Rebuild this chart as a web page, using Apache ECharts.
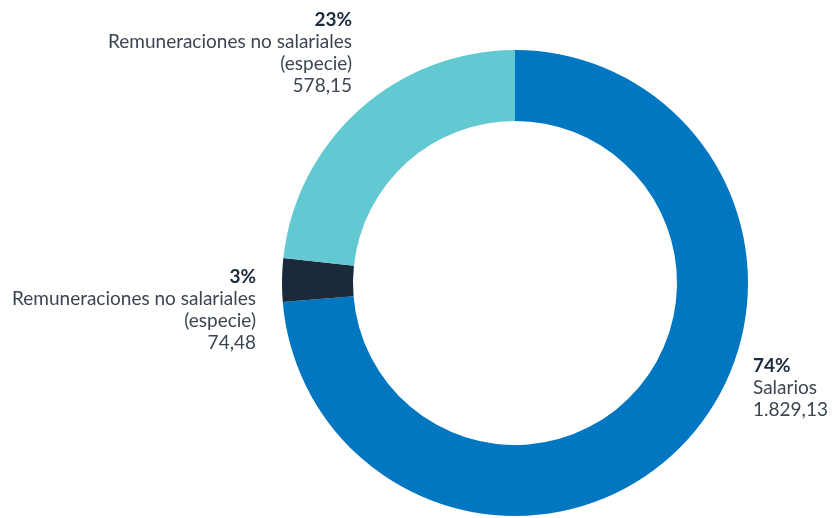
<!DOCTYPE html>
<html>
<head>
<meta charset="utf-8">
<script src="https://cdn.jsdelivr.net/npm/echarts@6/dist/echarts.min.js"></script>
<style>html,body{margin:0;padding:0;background:#fff}#c{width:835px;height:518px}</style>
</head>
<body>
<div id="c"></div>
<script>
const categories = ['Salarios', 'Remuneraciones no salariales\n(especie)', 'Remuneraciones no salariales\n(especie)'];
const values = [1829.13, 74.48, 578.15];
const colors = ['#0077c0', '#1a2a3a', '#62c8d2'];

function fmtEs(v) {
  const parts = v.toFixed(2).split('.');
  const int = parts[0].replace(/\B(?=(\d{3})+(?!\d))/g, '.');
  return int + ',' + parts[1];
}

// label anchor (x, y top, align) per slice
const labelPos = [
  {x: 753, y: 355, align: 'left'},
  {x: 256, y: 266, align: 'right'},
  {x: 352, y: 9, align: 'right'}
];

const chart = echarts.init(document.getElementById('c'));
chart.setOption({
  animation: false,
  series: [{
    type: 'pie',
    center: [515, 283],
    radius: [162, 233],
    startAngle: 90,
    clockwise: true,
    avoidLabelOverlap: false,
    labelLine: {show: false},
    label: {
      show: true,
      position: 'outside',
      fontFamily: 'Lato',
      formatter: function (p) {
        return '{b|' + Math.round(p.percent) + '%}\n{n|' + p.name.split('\n').join('}\n{n|') + '}\n{n|' + fmtEs(p.value) + '}';
      },
      rich: {
        b: {fontFamily: 'Lato', fontWeight: 'bold', fontSize: 19, color: '#1c2b3a', lineHeight: 22},
        n: {fontFamily: 'Lato', fontWeight: 'normal', fontSize: 19, color: '#3c4652', lineHeight: 22}
      }
    },
    labelLayout: function (params) {
      const lp = labelPos[params.dataIndex];
      return {x: lp.x, y: lp.y, align: lp.align, verticalAlign: 'top'};
    },
    data: values.map((v, i) => ({
      name: categories[i],
      value: v,
      itemStyle: {color: colors[i]},
      label: {align: labelPos[i].align}
    }))
  }]
});
</script>
</body>
</html>
